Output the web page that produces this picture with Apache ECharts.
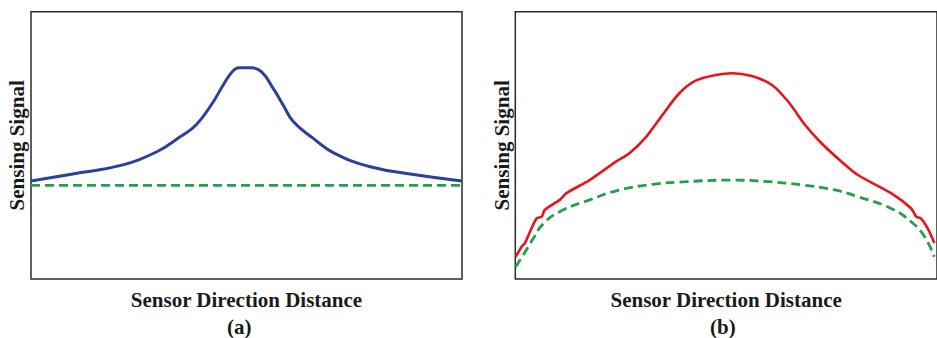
<!DOCTYPE html>
<html>
<head>
<meta charset="utf-8">
<script src="https://cdn.jsdelivr.net/npm/echarts@6/dist/echarts.min.js"></script>
<style>html,body{margin:0;padding:0;background:#fff}#c{width:937px;height:338px}</style>
</head>
<body>
<div id="c"></div>
<script>
// Panel (a): x positions (0-100) and sensing signal values (0-100)
const aBlueX = [0, 9.7, 20.6, 29.2, 34.6, 38.4, 42.3, 44.6, 46.9, 48.4, 51.2, 53.5, 56.2, 58.5, 60.9, 65.5, 70.1, 78.7, 89.6, 100];
const aBlueY = [36.7, 39.3, 42.4, 47.6, 53.2, 57.8, 66.3, 72.6, 77.9, 79.0, 79.0, 77.5, 71.3, 65.1, 58.8, 52.6, 47.3, 42.0, 38.9, 36.7];
const aGreenX = [0, 100];
const aGreenY = [35, 35];
// Panel (b)
const bRedX = [0.1, 1.5, 2.3, 3.5, 5.1, 6.3, 7.0, 10.6, 12.2, 17.7, 24.0, 27.2, 31.2, 35.1, 39.1, 43.0, 47.8, 51.7, 56.4, 61.2, 65.1, 69.1, 73.0, 77.8, 81.7, 89.6, 94.4, 95.6, 96.7, 98.3, 99.9];
const bRedY = [8.3, 12.1, 13.4, 17.7, 22.7, 23.3, 25.8, 29.6, 32.1, 37.0, 43.9, 47.0, 53.2, 61.4, 69.5, 74.2, 76.3, 77.0, 75.9, 72.6, 66.3, 57.6, 50.8, 43.9, 38.9, 32.1, 26.4, 23.3, 22.7, 19.0, 13.5];
const bGreenX = [0.1, 1.9, 4.3, 6.6, 10.6, 17.7, 24.8, 32.7, 40.6, 51.7, 60.4, 68.3, 76.2, 81.7, 89.6, 94.4, 97.6, 99.9];
const bGreenY = [4.6, 9.0, 15.2, 20.6, 25.2, 29.6, 33.3, 35.4, 36.4, 37.0, 36.4, 35.2, 33.3, 30.8, 26.4, 21.4, 15.8, 8.3];

const xLabel = 'Sensor Direction Distance';
const yLabel = 'Sensing Signal';
const panelLabels = ['(a)', '(b)'];

const zip = (xs, ys) => xs.map((x, i) => [x, ys[i]]);
const font = '"Liberation Serif", "Times New Roman", serif';

const chart = echarts.init(document.getElementById('c'), null, {renderer: 'svg'});
const axisCommon = {
  type: 'value', min: 0, max: 100,
  axisLabel: {show: false}, axisTick: {show: false}, splitLine: {show: false},
  axisLine: {show: false}
};
const nameStyle = {fontFamily: font, fontWeight: 'bold', fontSize: 21, color: '#1a1a1a'};

chart.setOption({
  animation: false,
  grid: [
    {left: 31, top: 11.7, width: 431, height: 267.3, show: true, borderColor: '#2a2a2a', borderWidth: 1.5, backgroundColor: 'transparent'},
    {left: 515.3, top: 11.7, width: 424, height: 267.3, show: true, borderColor: '#2a2a2a', borderWidth: 1.5, backgroundColor: 'transparent'}
  ],
  xAxis: [
    Object.assign({gridIndex: 0, name: xLabel, nameLocation: 'middle', nameGap: 10, nameTextStyle: nameStyle}, axisCommon),
    Object.assign({gridIndex: 1, name: xLabel, nameLocation: 'middle', nameGap: 10, nameTextStyle: nameStyle}, axisCommon, {max: 100.55})
  ],
  yAxis: [
    Object.assign({gridIndex: 0, name: yLabel, nameLocation: 'middle', nameGap: 4, nameTextStyle: nameStyle}, axisCommon),
    Object.assign({gridIndex: 1, name: yLabel, nameLocation: 'middle', nameGap: 3, nameTextStyle: nameStyle}, axisCommon)
  ],
  graphic: [
    {type: 'text', left: 227, top: 316, style: {text: panelLabels[0], font: 'bold 21px ' + font, fill: '#1a1a1a'}},
    {type: 'text', left: 710, top: 316, style: {text: panelLabels[1], font: 'bold 21px ' + font, fill: '#1a1a1a'}}
  ],
  series: [
    {type: 'line', xAxisIndex: 0, yAxisIndex: 0, data: zip(aGreenX, aGreenY), showSymbol: false,
     lineStyle: {color: '#22a04b', width: 2.8, type: [9, 5]}},
    {type: 'line', xAxisIndex: 0, yAxisIndex: 0, data: zip(aBlueX, aBlueY), showSymbol: false, smooth: 0.45,
     lineStyle: {color: '#2b3f9c', width: 3}},
    {type: 'line', xAxisIndex: 1, yAxisIndex: 1, data: zip(bGreenX, bGreenY), showSymbol: false, smooth: 0.45,
     lineStyle: {color: '#22a04b', width: 2.8, type: [9, 5]}},
    {type: 'line', xAxisIndex: 1, yAxisIndex: 1, data: zip(bRedX, bRedY), showSymbol: false, smooth: 0.3,
     lineStyle: {color: '#e8141b', width: 2.6}}
  ]
});
</script>
</body>
</html>
